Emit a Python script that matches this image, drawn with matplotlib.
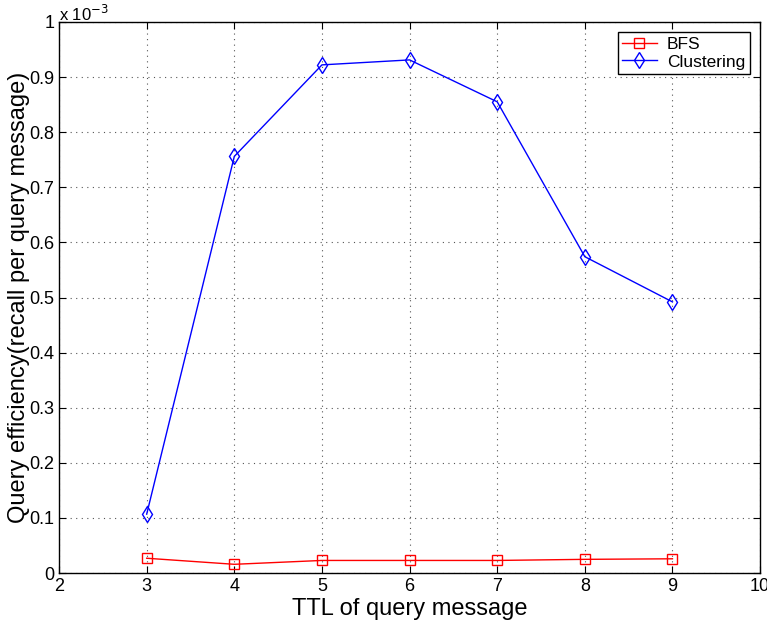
import matplotlib
matplotlib.use('Agg')
import matplotlib.pyplot as plt
import numpy as np

plt.rcParams['font.family'] = ['Liberation Sans', 'DejaVu Sans']

ttl = [3, 4, 5, 6, 7, 8, 9]
bfs = [0.027, 0.016, 0.023, 0.023, 0.023, 0.025, 0.026]
clustering = [0.107, 0.756, 0.922, 0.931, 0.855, 0.574, 0.492]

fig = plt.figure(figsize=(7.67, 6.25), dpi=100)
ax = fig.add_axes([0.077, 0.083, 0.914, 0.882])

ax.plot(ttl, bfs, color='red', marker='s', mfc='none', mec='red', ms=7, lw=1, label='BFS')
ax.plot(ttl, clustering, color='blue', marker='d', mfc='none', mec='blue', ms=8.5, lw=1, label='Clustering')

ax.set_xlim(2, 10)
ax.set_ylim(0, 1)
ax.set_xticks(range(2, 11))
ax.set_yticks(np.arange(0, 1.01, 0.1))
ax.set_yticklabels(['0', '0.1', '0.2', '0.3', '0.4', '0.5', '0.6', '0.7', '0.8', '0.9', '1'])
ax.tick_params(direction='in', top=True, right=True, labelsize=13, length=5)
ax.grid(True, linestyle=(0, (1, 4)), color='#555555', lw=0.8)
for s in ax.spines.values():
    s.set_linewidth(1)

ax.set_xlabel('TTL of query message', fontsize=17, labelpad=2)
ax.set_ylabel('Query efficiency(recall per query message)', fontsize=17)
ax.yaxis.set_label_coords(-0.042, 0.5)
ax.text(0.0, 0.997, r'x 10$^{-3}$', transform=ax.transAxes, fontsize=12, ha='left', va='bottom')

leg = ax.legend(loc='upper right', fontsize=12.5, fancybox=False, edgecolor='black',
                framealpha=1, borderpad=0.25, labelspacing=0.15, handlelength=2.0,
                handletextpad=0.6, borderaxespad=0.6)
leg.get_frame().set_linewidth(1)

fig.savefig('out.png', dpi=100)
